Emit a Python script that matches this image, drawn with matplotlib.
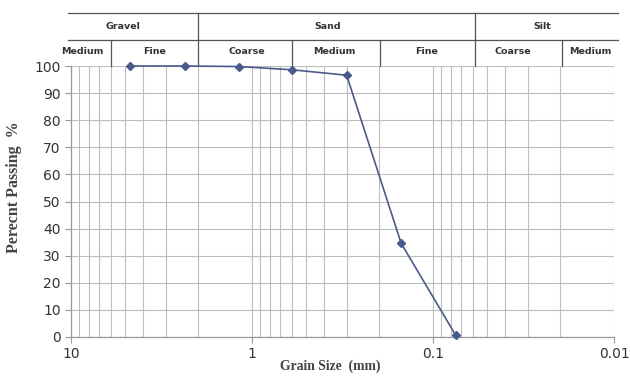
import matplotlib
matplotlib.use("Agg")
import matplotlib.pyplot as plt
from matplotlib.ticker import LogLocator, FixedLocator, NullFormatter
from matplotlib.lines import Line2D

### sieve data
grain_size = [4.75, 2.36, 1.18, 0.6, 0.3, 0.15, 0.075]   # mm
passing = [100.0, 100.0, 99.8, 98.6, 96.6, 34.6, 0.7]    # %

### soil classification header (grain sizes in mm)
main_labels = ["Gravel", "Sand", "Silt"]
main_label_pos = [5.17, 0.384, 0.0248]
main_bounds = [2.0, 0.0583]
sub_labels = ["Medium", "Fine", "Coarse", "Medium", "Fine", "Coarse", "Medium"]
sub_label_pos = [8.7, 3.44, 1.07, 0.351, 0.109, 0.0362, 0.0135]
sub_bounds = [6.02, 0.598, 0.196, 0.0195]

x_ticks = [10, 1, 0.1, 0.01]
x_ticklabels = ["10", "1", "0.1", "0.01"]
y_ticks = list(range(0, 101, 10))

line_col = "#4b5a8c"
grid_col = "#bdbdbd"
hdr_col = "#555555"
txt_col = "#333333"

fig = plt.figure(figsize=(6.3, 3.76), dpi=100)
ax = fig.add_axes([71/630, 1-337/376, 543/630, 271/376])

ax.plot(grain_size, passing, color=line_col, lw=1.2, marker="D", ms=4.2,
        mfc=line_col, mec=line_col, zorder=3, clip_on=False)

ax.set_xscale("log")
ax.set_xlim(10, 0.01)
ax.set_ylim(0, 100)

ax.xaxis.set_major_locator(FixedLocator(x_ticks))
ax.set_xticklabels(x_ticklabels)
ax.xaxis.set_minor_locator(LogLocator(base=10, subs=range(2, 10)))
ax.xaxis.set_minor_formatter(NullFormatter())
ax.set_yticks(y_ticks)

ax.grid(True, which="both", axis="x", color=grid_col, lw=0.8)
ax.grid(True, which="major", axis="y", color=grid_col, lw=0.8)
ax.set_axisbelow(True)

for s in ["top", "right"]:
    ax.spines[s].set_visible(False)
for s in ["left", "bottom"]:
    ax.spines[s].set_color("#999999")
    ax.spines[s].set_linewidth(0.9)

ax.tick_params(axis="both", which="major", labelsize=10, colors="#999999",
               labelcolor=txt_col, length=4, width=0.8)
ax.tick_params(axis="x", which="minor", length=0)
ax.tick_params(axis="x", which="major", pad=3)

ax.set_xlabel("Grain Size  (mm)", family="Liberation Serif", fontweight="bold",
              fontsize=9.8, color="#444444")
ax.xaxis.set_label_coords(0.477, -0.083)
ax.xaxis.label.set_va("top")
ax.set_ylabel("Perecnt Passing  %", family="Liberation Serif", fontweight="bold",
              fontsize=11.5, color="#444444")
ax.yaxis.set_label_coords(-0.09, 0.553)

# header table above the plot
tr = ax.get_xaxis_transform()
y_top, y_mid, y_bot = 1.1956, 1.096, 1.0
for yy in (y_top, y_mid):
    ax.add_line(Line2D([-0.0055, 1.0074], [yy, yy], transform=ax.transAxes,
                       color=hdr_col, lw=0.9, clip_on=False))
for b in main_bounds:
    ax.add_line(Line2D([b, b], [y_bot, y_top], transform=tr, color=hdr_col,
                       lw=0.9, clip_on=False))
for b in sub_bounds:
    ax.add_line(Line2D([b, b], [y_bot, y_mid], transform=tr, color=hdr_col,
                       lw=0.9, clip_on=False))
for lab, p in zip(main_labels, main_label_pos):
    ax.text(p, (y_top + y_mid) / 2, lab, transform=tr, ha="center", va="center",
            fontsize=6.8, fontweight="bold", color=txt_col)
for lab, p in zip(sub_labels, sub_label_pos):
    ax.text(p, (y_mid + y_bot) / 2 + 0.005, lab, transform=tr, ha="center",
            va="center", fontsize=6.8, fontweight="bold", color=txt_col)

fig.savefig("out.png", dpi=100)
